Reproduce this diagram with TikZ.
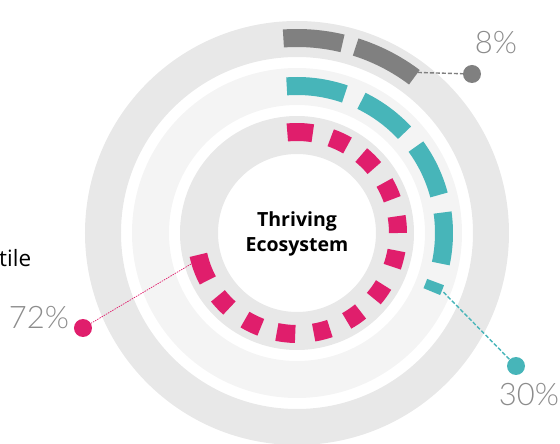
\documentclass[tikz,border=0pt]{standalone}
\usepackage{fontspec}
\setmainfont{Open Sans}
\newfontfamily\thinfont{Lato Light}
\usepackage{tikz}
\definecolor{ringgray}{HTML}{E8E8E8}
\definecolor{ringpale}{HTML}{F4F4F4}
\definecolor{seggray}{HTML}{808080}
\definecolor{segteal}{HTML}{47B5B9}
\definecolor{segpink}{HTML}{E01E6C}
\definecolor{labelgray}{HTML}{8C8C8C}

\begin{document}
\begin{tikzpicture}[x=1pt, y=1pt]
  \useasboundingbox (-297,-211) rectangle (263,233);
  \clip (-297,-211) rectangle (263,233);
  \fill[ringgray, even odd rule] (0,0) circle (212pt) (0,0) circle (176pt);
  \fill[ringpale, even odd rule] (0,0) circle (165pt) (0,0) circle (128pt);
  \fill[ringgray, even odd rule] (0,0) circle (117pt) (0,0) circle (79pt);
  % segments, angles clockwise from the top
  \foreach \a/\b in {-4/13.5, 17.5/37}
    \draw[seggray, line width=18pt] ({90-\a}:195pt) arc[start angle={90-\a}, end angle={90-\b}, radius=195pt];
  \foreach \a/\b in {-4/19, 26/47, 54/75, 82/102, 109.5/113.5}
    \draw[segteal, line width=18pt] ({90-\a}:147pt) arc[start angle={90-\a}, end angle={90-\b}, radius=147pt];
  \foreach \a/\b in {-5.5/9, 19.5/30, 39.5/50, 60/70.5, 80.5/90, 100/109.5, 121/130.5,
                     141/150.5, 161/170.5, 181/191.5, 201/211, 222/231.5, 242/257.5}
    \draw[segpink, line width=18pt] ({90-\a}:101pt) arc[start angle={90-\a}, end angle={90-\b}, radius=101pt];
  \coordinate (gend) at (53:201pt);
  \coordinate (tend) at (-22:158pt);
  \coordinate (pend) at (196:108pt);
  \begin{scope}[nodes = {circle, inner sep = 0pt, minimum size = 18pt}]
    \node[fill = seggray] (dotgray) at (175,159) {};
    \node[fill = segteal] (dotteal) at (219,-133) {};
    \node[fill = segpink] (dotpink) at (-214,-95) {};
  \end{scope}
  \begin{scope}[nodes = {labelgray, inner sep = 0pt}, font = \thinfont\fontsize{31}{36}\selectfont]
    \node (lblgray) at (199,190) {8\%};
    \node (lblteal) at (232,-162) {30\%};
    \node (lblpink) at (-258,-85) {72\%};
  \end{scope}
  \draw[seggray, line width = 1.4pt, dash pattern = on 4pt off 2pt] (gend) -- (dotgray);
  \draw[segteal, line width = 1.4pt, dash pattern = on 4pt off 2pt] (tend) -- (dotteal);
  \draw[segpink, line width = 0.7pt, dash pattern = on 1.5pt off 1pt] (pend) -- (dotpink);
  \node[font = \bfseries\fontsize{19.5}{25}\selectfont, align = center] (hub) at (0,-1) {Thriving\\Ecosystem};
  \node[anchor = base west, inner sep = 0pt, font = \fontsize{22.5}{26}\selectfont] (side) at (-298,-34) {tile};
\end{tikzpicture}
\end{document}
